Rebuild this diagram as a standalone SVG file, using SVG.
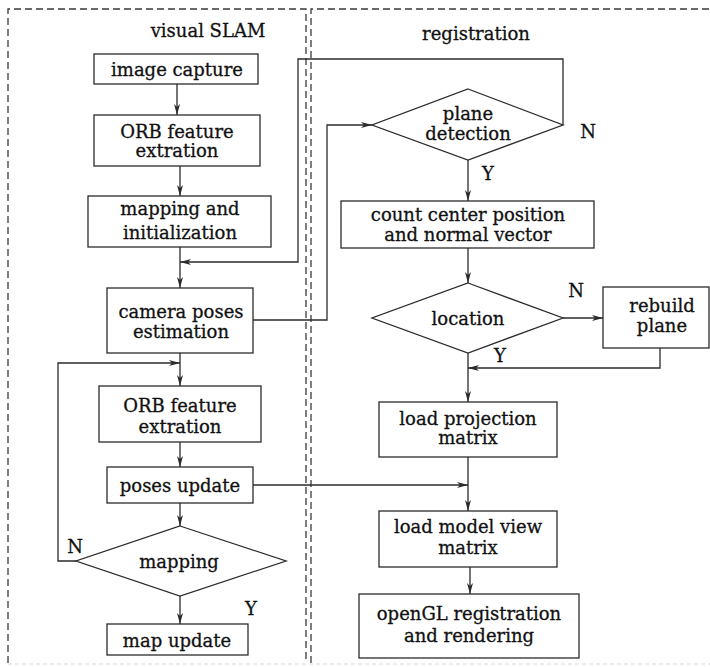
<svg xmlns="http://www.w3.org/2000/svg" width="710" height="667" viewBox="0 0 710 667">
<defs>
<style>
.b{fill:#fff;stroke:#2b2b2b;stroke-width:1.3}
.c{fill:none;stroke:#2b2b2b;stroke-width:1.3}
.d{fill:none;stroke:#3a3a3a;stroke-width:1.3;stroke-dasharray:7 4}
.t{font-family:"DejaVu Serif","Liberation Serif",serif;font-size:18px;fill:#111;stroke:#111;stroke-width:0.3;text-anchor:middle}
</style>
<marker id="a" markerUnits="userSpaceOnUse" markerWidth="12" markerHeight="8" refX="11" refY="4" orient="auto">
<path d="M0,1 L11,4 L0,7 L3,4 Z" fill="#2b2b2b"/>
</marker>
</defs>
<rect width="710" height="667" fill="#fff"/>
<g id="frames">
<path class="d" d="M8,663 V9 H306 V663"/>
<path class="d" d="M311,663 V9 H710"/>
<line x1="8" y1="664" x2="710" y2="664" stroke="#d8d8d8" stroke-width="1.2" stroke-dasharray="4 3"/>
<text class="t" x="208" y="37">visual SLAM</text>
<text class="t" x="476" y="40">registration</text>
</g>
<g id="connectors">
<path class="c" d="M177,84 V115" marker-end="url(#a)"/>
<path class="c" d="M180,166 V196" marker-end="url(#a)"/>
<path class="c" d="M180,247 V288" marker-end="url(#a)"/>
<path class="c" d="M563,125 V59 H298 V262 H180" marker-end="url(#a)"/>
<path class="c" d="M253,320 H327 V125 H372" marker-end="url(#a)"/>
<path class="c" d="M468,160 V201" marker-end="url(#a)"/>
<path class="c" d="M468,248 V283" marker-end="url(#a)"/>
<path class="c" d="M563,318 H603" marker-end="url(#a)"/>
<path class="c" d="M660,348 V368 H468" marker-end="url(#a)"/>
<path class="c" d="M468,353 V402" marker-end="url(#a)"/>
<path class="c" d="M468,457 V511" marker-end="url(#a)"/>
<path class="c" d="M253,485 H468" marker-end="url(#a)"/>
<path class="c" d="M470,567 V594" marker-end="url(#a)"/>
<path class="c" d="M180,353 V386" marker-end="url(#a)"/>
<path class="c" d="M76,561 H58 V363 H180" marker-end="url(#a)"/>
<path class="c" d="M180,442 V467" marker-end="url(#a)"/>
<path class="c" d="M180,503 V526" marker-end="url(#a)"/>
<path class="c" d="M180,596 V624" marker-end="url(#a)"/>
<text class="t" x="588" y="138">N</text>
<text class="t" x="488" y="180">Y</text>
<text class="t" x="576" y="297">N</text>
<text class="t" x="500" y="362">Y</text>
<text class="t" x="75" y="553">N</text>
<text class="t" x="251" y="615">Y</text>
</g>
<g id="image-capture">
<rect class="b" x="94" y="54" width="164" height="30"/>
<text class="t" x="177" y="76">image capture</text>
</g>
<g id="orb1">
<rect class="b" x="94" y="115" width="166" height="51"/>
<text class="t" x="177" y="138">ORB feature</text>
<text class="t" x="177" y="157">extration</text>
</g>
<g id="mapping-init">
<rect class="b" x="88" y="196" width="183" height="51"/>
<text class="t" x="180" y="215">mapping and</text>
<text class="t" x="180" y="239">initialization</text>
</g>
<g id="camera-poses">
<rect class="b" x="107" y="288" width="146" height="65"/>
<text class="t" x="181" y="318">camera poses</text>
<text class="t" x="181" y="338">estimation</text>
</g>
<g id="orb2">
<rect class="b" x="99" y="386" width="162" height="56"/>
<text class="t" x="180" y="412">ORB feature</text>
<text class="t" x="180" y="433">extration</text>
</g>
<g id="poses-update">
<rect class="b" x="107" y="467" width="146" height="36"/>
<text class="t" x="180" y="492">poses update</text>
</g>
<g id="mapping">
<polygon class="b" points="180,526 286,561 180,596 76,561"/>
<text class="t" x="179" y="568">mapping</text>
</g>
<g id="map-update">
<rect class="b" x="107" y="624" width="141" height="31"/>
<text class="t" x="177" y="647">map update</text>
</g>
<g id="plane-detection">
<polygon class="b" points="468,89 563,125 468,160 372,125"/>
<text class="t" x="468" y="120">plane</text>
<text class="t" x="468" y="140">detection</text>
</g>
<g id="count-center">
<rect class="b" x="341" y="201" width="253" height="47"/>
<text class="t" x="468" y="221">count center position</text>
<text class="t" x="468" y="241">and normal vector</text>
</g>
<g id="location">
<polygon class="b" points="468,283 563,318 468,353 372,318"/>
<text class="t" x="468" y="325">location</text>
</g>
<g id="rebuild-plane">
<rect class="b" x="603" y="287" width="106" height="61"/>
<text class="t" x="662" y="312">rebuild</text>
<text class="t" x="662" y="332">plane</text>
</g>
<g id="load-projection">
<rect class="b" x="379" y="402" width="178" height="55"/>
<text class="t" x="468" y="425">load projection</text>
<text class="t" x="468" y="444">matrix</text>
</g>
<g id="load-model-view">
<rect class="b" x="379" y="511" width="178" height="56"/>
<text class="t" x="468" y="533">load model view</text>
<text class="t" x="468" y="554">matrix</text>
</g>
<g id="opengl">
<rect class="b" x="359" y="594" width="220" height="64"/>
<text class="t" x="469" y="620">openGL registration</text>
<text class="t" x="469" y="642">and rendering</text>
</g>
</svg>
